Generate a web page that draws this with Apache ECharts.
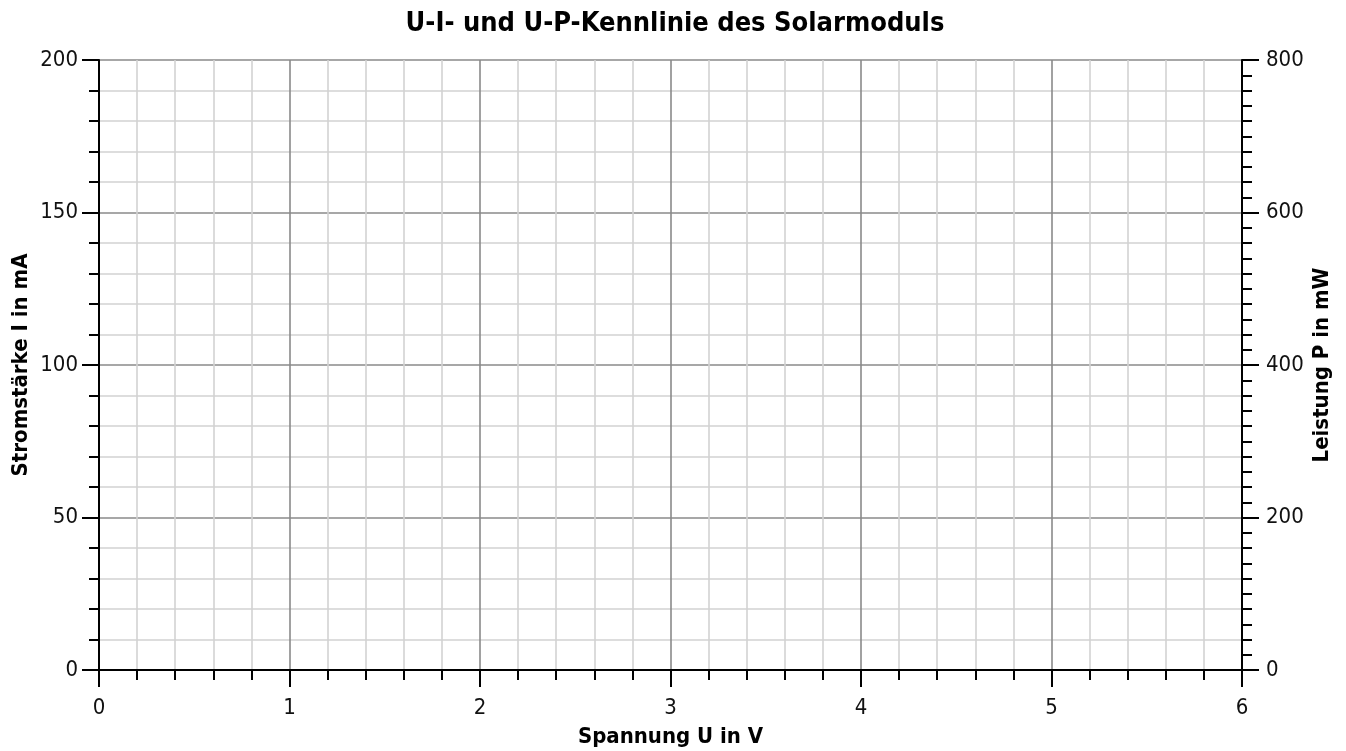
<!DOCTYPE html>
<html>
<head>
<meta charset="utf-8">
<script src="https://cdn.jsdelivr.net/npm/echarts@6/dist/echarts.min.js"></script>
<style>
html,body{margin:0;padding:0;background:#fff;}
#chart{width:1346px;height:751px;}
</style>
</head>
<body>
<div id="chart"></div>
<script>
// Data (the reference chart shows an empty measurement grid)
const voltage = [];   // Spannung U in V
const current = [];   // Stromstärke I in mA
const power = [];     // Leistung P in mW

const titleText = 'U-I- und U-P-Kennlinie des Solarmoduls';
const xName = 'Spannung U in V';
const yLeftName = 'Stromstärke I in mA';
const yRightName = 'Leistung P in mW';

const xScale = [0, 6, 1];        // min, max, interval
const yLeftScale = [0, 200, 50];
const yRightScale = [0, 800, 200];

const FONT = '"DejaVu Sans Condensed", "DejaVu Sans", sans-serif';

const chart = echarts.init(document.getElementById('chart'), null, {renderer: 'canvas'});

const axisLineStyle = {color: '#000', width: 2};
const tickStyle = {color: '#000', width: 2};
const labelStyle = {color: '#111', fontFamily: FONT, fontSize: 22};
const nameStyle = {color: '#000', fontFamily: FONT, fontSize: 22, fontWeight: 'bold'};
const majorGrid = {color: '#8a8a8a', width: 1.6};
const minorGrid = {color: '#d2d2d2', width: 1.6};

chart.setOption({
  animation: false,
  backgroundColor: '#fff',
  title: {
    text: titleText,
    left: 670, top: 5, textAlign: 'center',
    textStyle: {fontFamily: FONT, fontSize: 27, fontWeight: 'bold', color: '#000'}
  },
  grid: {left: 99, right: 104, top: 60, bottom: 81, containLabel: false, outerBoundsMode: 'none'},
  xAxis: {
    type: 'value',
    min: xScale[0], max: xScale[1], interval: xScale[2],
    name: xName, nameLocation: 'middle', nameGap: 56, nameMoveOverlap: false,
    nameTextStyle: nameStyle,
    axisLine: {show: true, onZero: false, lineStyle: axisLineStyle},
    axisTick: {show: true, length: 17, lineStyle: tickStyle},
    minorTick: {show: true, splitNumber: 5, length: 10, lineStyle: tickStyle},
    axisLabel: {margin: 27, ...labelStyle},
    splitLine: {show: true, lineStyle: majorGrid},
    minorSplitLine: {show: true, lineStyle: minorGrid}
  },
  yAxis: [{
    type: 'value', position: 'left',
    min: yLeftScale[0], max: yLeftScale[1], interval: yLeftScale[2],
    name: yLeftName, nameLocation: 'middle', nameGap: 67, nameMoveOverlap: false,
    nameTextStyle: nameStyle,
    axisLine: {show: true, onZero: false, lineStyle: axisLineStyle},
    axisTick: {show: true, length: 17, lineStyle: tickStyle},
    minorTick: {show: true, splitNumber: 5, length: 10, lineStyle: tickStyle},
    axisLabel: {margin: 21, ...labelStyle},
    splitLine: {show: true, lineStyle: majorGrid},
    minorSplitLine: {show: true, lineStyle: minorGrid}
  }, {
    type: 'value', position: 'right',
    min: yRightScale[0], max: yRightScale[1], interval: yRightScale[2],
    name: yRightName, nameLocation: 'middle', nameGap: 69, nameMoveOverlap: false,
    nameTextStyle: nameStyle,
    axisLine: {show: true, onZero: false, lineStyle: axisLineStyle},
    axisTick: {show: true, length: 17, lineStyle: tickStyle},
    minorTick: {show: true, splitNumber: 10, length: 10, lineStyle: tickStyle},
    axisLabel: {margin: 24, ...labelStyle},
    splitLine: {show: false},
    minorSplitLine: {show: false}
  }],
  series: [{
    name: 'I', type: 'line', yAxisIndex: 0, showSymbol: true,
    data: voltage.map((u, i) => [u, current[i]]),
    lineStyle: {color: '#1f4e9c'}, itemStyle: {color: '#1f4e9c'}
  }, {
    name: 'P', type: 'line', yAxisIndex: 1, showSymbol: true,
    data: voltage.map((u, i) => [u, power[i]]),
    lineStyle: {color: '#c0392b'}, itemStyle: {color: '#c0392b'}
  }]
});
</script>
</body>
</html>
